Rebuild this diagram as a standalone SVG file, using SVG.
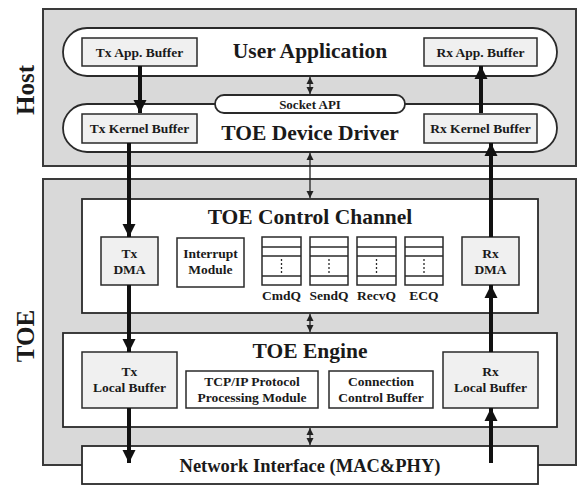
<svg xmlns="http://www.w3.org/2000/svg" width="580" height="485" viewBox="0 0 580 485">
<style>
text{font-family:"Liberation Serif","Times New Roman",serif;font-weight:bold;fill:#1a1a1a;text-anchor:middle}
.grp{fill:#d9d9d9;stroke:#3a3a3a;stroke-width:2}
.wb{fill:#fff;stroke:#2a2a2a;stroke-width:1.8}
.gb{fill:#f0f0f0;stroke:#2a2a2a;stroke-width:1.5}
.mb{fill:#fff;stroke:#2a2a2a;stroke-width:1.5}
.big{font-size:21.5px}
.mid{font-size:21.5px}
.sm{font-size:13.5px}
.xs{font-size:13px}
.side{font-size:25px}
.thick{stroke:#111;stroke-width:4;fill:none;marker-end:url(#hd)}
.thin{stroke:#222;stroke-width:1.3;fill:none;marker-start:url(#sh);marker-end:url(#sh)}
.ql{stroke:#2a2a2a;stroke-width:1.3}
.dot{stroke:#2a2a2a;stroke-width:1.3;stroke-dasharray:2 2}
</style>
<defs>
<marker id="hd" markerUnits="userSpaceOnUse" markerWidth="14" markerHeight="14" viewBox="0 0 14 14" refX="13" refY="7" orient="auto">
<path d="M0,0.5 L13,7 L0,13.5 Z" fill="#111"/>
</marker>
<marker id="sh" markerUnits="userSpaceOnUse" markerWidth="8" markerHeight="8" viewBox="0 0 8 8" refX="7" refY="4" orient="auto-start-reverse">
<path d="M0,0.5 L7,4 L0,7.5 Z" fill="#222"/>
</marker>
</defs>

<g id="host">
<rect class="grp" x="43" y="9" width="533" height="157"/>
<text class="side" transform="translate(34,90) rotate(-90)">Host</text>
</g>
<g id="toe">
<rect class="grp" x="43" y="179" width="533" height="286"/>
<text class="side" transform="translate(34,336) rotate(-90)">TOE</text>
</g>

<g id="user-application">
<rect class="wb" x="63" y="28" width="494" height="48" rx="24" ry="24"/>
<text class="big" x="310" y="58">User Application</text>
</g>
<g id="toe-device-driver">
<rect class="wb" x="63" y="104" width="494" height="48" rx="24" ry="24"/>
<text class="big" x="310" y="140">TOE Device Driver</text>
</g>
<g id="socket-api">
<rect class="wb" x="215" y="95" width="190" height="18" rx="9" ry="9"/>
<text class="xs" x="310" y="108.5">Socket API</text>
</g>
<g id="tx-app-buffer">
<rect class="gb" x="82" y="38" width="115" height="28"/>
<text class="sm" x="139.5" y="56.5">Tx App. Buffer</text>
</g>
<g id="rx-app-buffer">
<rect class="gb" x="424" y="38" width="113" height="28"/>
<text class="sm" x="480.5" y="56.5">Rx App. Buffer</text>
</g>
<g id="tx-kernel-buffer">
<rect class="gb" x="82" y="114" width="115" height="29"/>
<text class="sm" x="139.5" y="133">Tx Kernel Buffer</text>
</g>
<g id="rx-kernel-buffer">
<rect class="gb" x="424" y="114" width="113" height="29"/>
<text class="sm" x="480.5" y="133">Rx Kernel Buffer</text>
</g>

<g id="toe-control-channel">
<rect class="wb" x="82" y="199" width="456" height="114"/>
<text class="mid" x="310" y="224">TOE Control Channel</text>
</g>
<g id="tx-dma">
<rect class="gb" x="101" y="237" width="57" height="48"/>
<text class="sm" x="129.5" y="258">Tx</text>
<text class="sm" x="129.5" y="274">DMA</text>
</g>
<g id="interrupt-module">
<rect class="mb" x="177" y="238" width="67" height="49"/>
<text class="sm" x="210.5" y="258">Interrupt</text>
<text class="sm" x="210.5" y="274">Module</text>
</g>
<g id="cmdq">
<rect class="mb" x="262" y="237" width="39" height="48"/>
<line class="ql" x1="262" y1="247" x2="301" y2="247"/>
<line class="ql" x1="262" y1="256" x2="301" y2="256"/>
<line class="ql" x1="262" y1="276" x2="301" y2="276"/>
<line class="dot" x1="281.5" y1="259" x2="281.5" y2="274"/>
<text class="sm" x="281.5" y="300">CmdQ</text>
</g>
<g id="sendq">
<rect class="mb" x="310" y="237" width="38" height="48"/>
<line class="ql" x1="310" y1="247" x2="348" y2="247"/>
<line class="ql" x1="310" y1="256" x2="348" y2="256"/>
<line class="ql" x1="310" y1="276" x2="348" y2="276"/>
<line class="dot" x1="329" y1="259" x2="329" y2="274"/>
<text class="sm" x="329" y="300">SendQ</text>
</g>
<g id="recvq">
<rect class="mb" x="357" y="237" width="39" height="48"/>
<line class="ql" x1="357" y1="247" x2="396" y2="247"/>
<line class="ql" x1="357" y1="256" x2="396" y2="256"/>
<line class="ql" x1="357" y1="276" x2="396" y2="276"/>
<line class="dot" x1="376.5" y1="259" x2="376.5" y2="274"/>
<text class="sm" x="376.5" y="300">RecvQ</text>
</g>
<g id="ecq">
<rect class="mb" x="405" y="237" width="38" height="48"/>
<line class="ql" x1="405" y1="247" x2="443" y2="247"/>
<line class="ql" x1="405" y1="256" x2="443" y2="256"/>
<line class="ql" x1="405" y1="276" x2="443" y2="276"/>
<line class="dot" x1="424" y1="259" x2="424" y2="274"/>
<text class="sm" x="424" y="300">ECQ</text>
</g>
<g id="rx-dma">
<rect class="gb" x="462" y="237" width="57" height="48"/>
<text class="sm" x="490.5" y="258">Rx</text>
<text class="sm" x="490.5" y="274">DMA</text>
</g>

<g id="toe-engine">
<rect class="wb" x="63" y="333" width="494" height="94"/>
<text class="mid" x="310" y="358">TOE Engine</text>
</g>
<g id="tx-local-buffer">
<rect class="gb" x="82" y="352" width="95" height="56"/>
<text class="sm" x="129.5" y="376">Tx</text>
<text class="sm" x="129.5" y="392">Local Buffer</text>
</g>
<g id="tcpip-module">
<rect class="mb" x="186" y="371" width="132" height="37"/>
<text class="sm" x="252" y="386">TCP/IP Protocol</text>
<text class="sm" x="252" y="402">Processing Module</text>
</g>
<g id="connection-control-buffer">
<rect class="mb" x="329" y="371" width="104" height="37"/>
<text class="sm" x="381" y="386">Connection</text>
<text class="sm" x="381" y="402">Control Buffer</text>
</g>
<g id="rx-local-buffer">
<rect class="gb" x="443" y="352" width="95" height="56"/>
<text class="sm" x="490.5" y="376">Rx</text>
<text class="sm" x="490.5" y="392">Local Buffer</text>
</g>

<g id="network-interface">
<rect class="wb" x="82" y="446" width="456" height="38"/>
<text style="font-size:18.5px" x="310" y="472">Network Interface (MAC&amp;PHY)</text>
</g>

<g id="connectors">
<line class="thick" x1="140" y1="66" x2="140" y2="113"/>
<line class="thick" x1="129" y1="143" x2="129" y2="237"/>
<line class="thick" x1="129" y1="285" x2="129" y2="352"/>
<line class="thick" x1="129" y1="408" x2="129" y2="463"/>
<line class="thick" x1="491" y1="463" x2="491" y2="408"/>
<line class="thick" x1="491" y1="352" x2="491" y2="285"/>
<line class="thick" x1="491" y1="237" x2="491" y2="143"/>
<line class="thick" x1="481" y1="113" x2="481" y2="66"/>
<line class="thin" x1="310" y1="77" x2="310" y2="94"/>
<line class="thin" x1="310" y1="153" x2="310" y2="198"/>
<line class="thin" x1="310" y1="314" x2="310" y2="332"/>
<line class="thin" x1="310" y1="428" x2="310" y2="445"/>
</g>
</svg>
